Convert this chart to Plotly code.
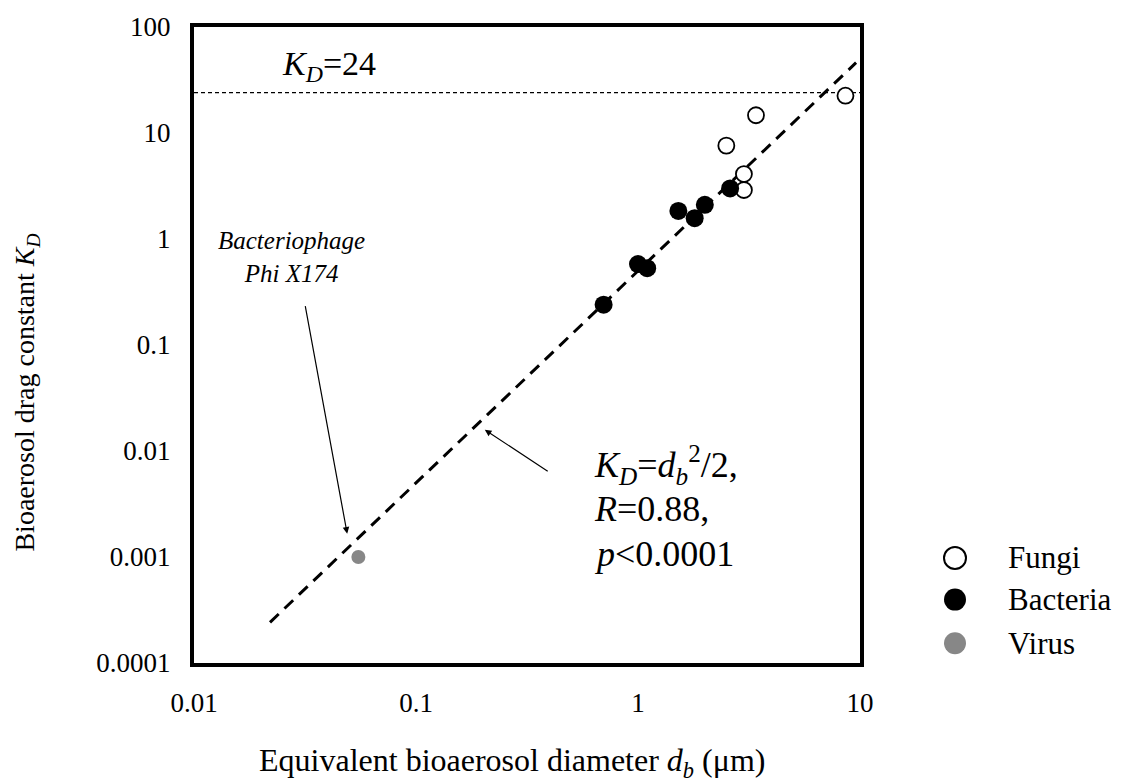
import math
import plotly.graph_objects as go

# Equivalent diameter d_b (um) and drag constant K_D for each bioaerosol group
fungi_d = [8.6, 3.4, 2.5, 3.0, 3.0]
fungi_k = [22.5, 14.7, 7.6, 4.1, 2.9]

bacteria_d = [2.6, 2.0, 1.8, 1.52, 1.0, 1.1, 0.70]
bacteria_k = [3.0, 2.1, 1.57, 1.84, 0.58, 0.53, 0.24]

virus_d = [0.055]
virus_k = [0.001]

# Trend line K_D = d_b^2 / 2 over the fitted diameter span
fit_coef = 0.5
fit_exp = 2.0
fit_d = [0.022, 9.6]
fit_k = [fit_coef * d ** fit_exp for d in fit_d]

# Upper limit K_D = 24
kd_limit = 24
limit_d = [0.01, 10]

x_ticks = [0.01, 0.1, 1, 10]
x_ticklabels = ["0.01", "0.1", "1", "10"]
y_ticks = [0.0001, 0.001, 0.01, 0.1, 1, 10, 100]
y_ticklabels = ["0.0001", "0.001", "0.01", "0.1", "1", "10", "100"]

FONT = "Liberation Serif"

# plot-area geometry in pixels, used to place paper-referenced items
PX_L, PX_R, PX_T, PX_B = 194, 860, 21, 663


def px_to_paper(px, py):
    return (px - PX_L) / (PX_R - PX_L), (PX_B - py) / (PX_B - PX_T)


fig = go.Figure()

fig.add_trace(go.Scatter(
    x=limit_d, y=[kd_limit, kd_limit], mode="lines",
    line=dict(color="black", width=1.3, dash="4px,3px"),
    showlegend=False, hoverinfo="skip"))

fig.add_trace(go.Scatter(
    x=fit_d, y=fit_k, mode="lines",
    line=dict(color="black", width=3, dash="12px,8px"),
    showlegend=False, hoverinfo="skip"))

fig.add_trace(go.Scatter(
    x=fungi_d, y=fungi_k, mode="markers", name="Fungi",
    marker=dict(size=16, color="white", line=dict(color="black", width=1.8)),
    showlegend=False))

fig.add_trace(go.Scatter(
    x=bacteria_d, y=bacteria_k, mode="markers", name="Bacteria",
    marker=dict(size=18, color="black"),
    showlegend=False))

fig.add_trace(go.Scatter(
    x=virus_d, y=virus_k, mode="markers", name="Virus",
    marker=dict(size=14, color="#878787"),
    showlegend=False))

annotations = []

# K_D = 24 label
annotations.append(dict(
    x=-1.39, y=1.63, xref="x", yref="y", showarrow=False,
    xanchor="center", yanchor="middle",
    text="<i>K<sub>D</sub></i>=24",
    font=dict(family=FONT, size=34, color="black")))

# Phage label with arrow to its point
annotations.append(dict(
    x=-1.56, y=-0.17, xref="x", yref="y", showarrow=False,
    xanchor="center", yanchor="middle", align="center",
    text="<i>Bacteriophage</i><br><i>Phi X174</i>",
    font=dict(family=FONT, size=25, color="black")))
annotations.append(dict(
    x=-1.31, y=-2.78, xref="x", yref="y",
    ax=-1.50, ay=-0.62, axref="x", ayref="y",
    showarrow=True, arrowhead=2, arrowsize=1.1, arrowwidth=1.2,
    arrowcolor="black", text=""))

# Fit equation and statistics
fit_lines = [
    ("<i>K<sub>D</sub></i>=<i>d<sub>b</sub></i><sup>2</sup>/2,", -2.131),
    ("<i>R</i>=0.88,", -2.551),
    ("<i>p</i><0.0001", -2.972),
]
for txt, yy in fit_lines:
    annotations.append(dict(
        x=-0.205, y=yy, xref="x", yref="y", xanchor="left", yanchor="middle",
        showarrow=False,
        text=txt, font=dict(family=FONT, size=36, color="black")))
annotations.append(dict(
    x=-0.69, y=-1.80, xref="x", yref="y",
    ax=-0.40, ay=-2.20, axref="x", ayref="y",
    showarrow=True, arrowhead=2, arrowsize=1.1, arrowwidth=1.2,
    arrowcolor="black", text=""))

# Axis titles
tx, ty = px_to_paper(512, 763)
annotations.append(dict(
    x=tx, y=ty, xref="paper", yref="paper", xanchor="center", yanchor="middle",
    showarrow=False,
    text="Equivalent bioaerosol diameter <i>d<sub>b</sub></i> (μm)",
    font=dict(family=FONT, size=32, color="black")))
tx, ty = px_to_paper(27, 390)
annotations.append(dict(
    x=tx, y=ty, xref="paper", yref="paper", xanchor="center", yanchor="middle",
    showarrow=False, textangle=-90,
    text="Bioaerosol drag constant <i>K<sub>D</sub></i>",
    font=dict(family=FONT, size=28, color="black")))

# Legend drawn beside the plot
legend_items = [("Fungi", "white", 557), ("Bacteria", "black", 599), ("Virus", "#878787", 643)]
shapes = []
for name, fill, py in legend_items:
    xc, yp = px_to_paper(955, py)
    xt, _ = px_to_paper(1006, py)
    line_col = "black" if name != "Virus" else "#878787"
    shapes.append(dict(
        type="circle", xref="paper", yref="paper",
        xsizemode="pixel", ysizemode="pixel",
        xanchor=xc, yanchor=yp, x0=-11, x1=11, y0=-11, y1=11,
        fillcolor=fill, line=dict(color=line_col, width=2 if name == "Fungi" else 0)))
    annotations.append(dict(
        x=xt, y=yp, xref="paper", yref="paper",
        xanchor="left", yanchor="middle", showarrow=False, text=name,
        font=dict(family=FONT, size=31, color="black")))

fig.update_layout(
    width=1121, height=783,
    margin=dict(l=PX_L, r=1121 - PX_R, t=PX_T, b=783 - PX_B),
    paper_bgcolor="white", plot_bgcolor="white",
    showlegend=False,
    annotations=annotations,
    shapes=shapes,
    font=dict(family=FONT, color="black"),
)

fig.update_xaxes(
    type="log", range=[-2, 1],
    tickvals=x_ticks, ticktext=x_ticklabels,
    ticks="", showgrid=False, zeroline=False,
    showline=True, linecolor="black", linewidth=4, mirror=True,
    tickfont=dict(family=FONT, size=27, color="black"),
    ticklabelstandoff=13)

fig.update_yaxes(
    type="log", range=[-4, 2],
    tickvals=y_ticks, ticktext=y_ticklabels,
    ticks="", showgrid=False, zeroline=False,
    showline=True, linecolor="black", linewidth=4, mirror=True,
    tickfont=dict(family=FONT, size=27, color="black"),
    ticklabelstandoff=14)

fig.write_html("out.html")
